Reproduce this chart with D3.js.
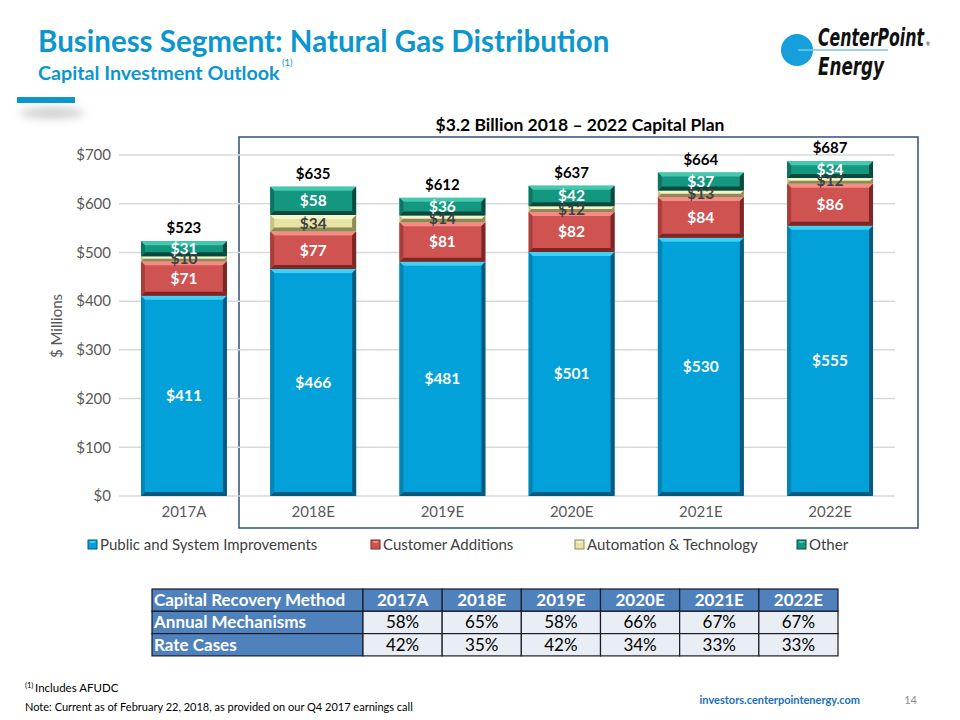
<!DOCTYPE html>
<html><head><meta charset="utf-8">
<script src="https://cdn.jsdelivr.net/npm/d3@7/dist/d3.min.js"></script>
<style>
body{margin:0;background:#fff;}
svg{display:block;font-family:Lato,"Open Sans",sans-serif;}
</style></head>
<body>
<svg id="c" width="960" height="720"></svg>
<script>
// ---- data ----
const categories = ["2017A","2018E","2019E","2020E","2021E","2022E"];
const seriesNames = ["Public and System Improvements","Customer Additions","Automation & Technology","Other"];
const publicSys = [411,466,481,501,530,555];
const customerAdd = [71,77,81,82,84,86];
const automation = [10,34,14,12,13,12];
const other = [31,58,36,42,37,34];
const totals = [523,635,612,637,664,687];
const yTicks = [0,100,200,300,400,500,600,700];
const tableHeader = ["Capital Recovery Method","2017A","2018E","2019E","2020E","2021E","2022E"];
const annualMech = ["58%","65%","58%","66%","67%","67%"];
const rateCases = ["42%","35%","42%","34%","33%","33%"];

const svg = d3.select("#c");
const blue = "#0b96d0";

// ---- header ----
svg.append("text").attr("x",38).attr("y",52).attr("font-size",29.5).attr("font-weight",700)
  .attr("fill",blue).text("Business Segment: Natural Gas Distribution");
svg.append("text").attr("x",38).attr("y",80).attr("font-size",19.7).attr("font-weight",700).attr("fill",blue)
  .text("Capital Investment Outlook");
svg.append("text").attr("x",282).attr("y",66).attr("font-size",9.5).attr("fill",blue).text("(1)");
const defs = svg.append("defs");
defs.append("filter").attr("id","blur").attr("x","-50%").attr("y","-100%").attr("width","200%").attr("height","300%")
  .append("feGaussianBlur").attr("stdDeviation",5);
svg.append("ellipse").attr("cx",52).attr("cy",113).attr("rx",32).attr("ry",5).attr("fill","#c8c8c8").attr("filter","url(#blur)");
svg.append("rect").attr("x",17).attr("y",97).attr("width",58).attr("height",6).attr("fill",blue);

// logo
svg.append("line").attr("x1",798).attr("y1",50).attr("x2",888).attr("y2",50).attr("stroke","#38a8df").attr("stroke-width",1.2);
svg.append("circle").attr("cx",797).attr("cy",50).attr("r",16).attr("fill","#169fdb");
svg.append("line").attr("x1",798).attr("y1",50).attr("x2",814).attr("y2",50).attr("stroke","#8fd3f2").attr("stroke-width",1.2);
const logoFont = '"Liberation Sans Narrow","DejaVu Sans Condensed","Liberation Sans",sans-serif';
svg.append("text").attr("x",818).attr("y",46).attr("font-family",logoFont).attr("font-size",24).attr("font-weight",700)
  .attr("font-style","italic").attr("textLength",106).attr("lengthAdjust","spacingAndGlyphs").attr("fill","#111").text("CenterPoint");
svg.append("text").attr("x",926).attr("y",46).attr("font-size",5).attr("fill","#111").text("®");
svg.append("text").attr("x",818).attr("y",75).attr("font-family",logoFont).attr("font-size",24).attr("font-weight",700)
  .attr("font-style","italic").attr("textLength",66).attr("lengthAdjust","spacingAndGlyphs").attr("fill","#111").text("Energy");

// ---- chart ----
const x = d3.scaleBand().domain(categories).range([119,895]).paddingInner(0.335).paddingOuter(0.17);
const y = d3.scaleLinear().domain([0,700]).range([496,155]);

// box
svg.append("rect").attr("x",239).attr("y",137).attr("width",679).attr("height",391)
  .attr("fill","none").attr("stroke","#3d5a85").attr("stroke-width",1.6);

svg.append("text").attr("x",580).attr("y",131).attr("text-anchor","middle").attr("font-size",17.5)
  .attr("font-weight",700).attr("fill","#000").text("$3.2 Billion 2018 \u2013 2022 Capital Plan");

// grid
svg.append("g").selectAll("line").data(yTicks).join("line")
  .attr("x1",119).attr("x2",895).attr("y1",d=>y(d)).attr("y2",d=>y(d))
  .attr("stroke","#d9d9d9").attr("stroke-width",1.5);

// y axis
const yAxis = svg.append("g").attr("transform","translate(119,0)")
  .call(d3.axisLeft(y).tickValues(yTicks).tickSize(0).tickPadding(8).tickFormat(d=>"$"+d));
yAxis.select(".domain").remove();
yAxis.selectAll("text").attr("font-size",15).attr("fill","#595959").attr("font-family","Lato,'Open Sans',sans-serif");
svg.append("text").attr("transform","translate(62,326) rotate(-90)").attr("text-anchor","middle")
  .attr("font-size",15).attr("fill","#595959").text("$ Millions");

// x axis
const xAxis = svg.append("g").attr("transform","translate(0,496)")
  .call(d3.axisBottom(x).tickSize(0).tickPadding(10));
xAxis.select(".domain").remove();
xAxis.selectAll("text").attr("font-size",15).attr("fill","#595959").attr("font-family","Lato,'Open Sans',sans-serif");

// stacked bars
const palettes = [
  {base:"#02a1d9", top:"#3fd0f5", side:"#0284b4", bot:"#035a7e", label:"#fff"},
  {base:"#cf5350", top:"#f58a86", side:"#a93f3c", bot:"#7a2725", label:"#fff"},
  {base:"#e7e3a5", top:"#f7f4cc", side:"#c6c187", bot:"#8f8a55", label:"#404040"},
  {base:"#149780", top:"#45c9ae", side:"#0d7562", bot:"#08493d", label:"#fff"}
];
const rows = categories.map((c,i)=>({cat:c, s0:publicSys[i], s1:customerAdd[i], s2:automation[i], s3:other[i]}));
const stack = d3.stack().keys(["s0","s1","s2","s3"])(rows);

const gBars = svg.append("g");
stack.forEach((layer,li)=>{
  const p = palettes[li];
  layer.forEach(d=>{
    const x0 = x(d.data.cat), w = x.bandwidth();
    const yt = y(d[1]), yb = y(d[0]), h = yb-yt;
    const b = Math.min(4, h/2);
    const g = gBars.append("g");
    g.append("rect").attr("x",x0).attr("y",yt).attr("width",w).attr("height",h).attr("fill",p.base);
    const pts = (a)=>a.map(q=>q.join(",")).join(" ");
    g.append("polygon").attr("points",pts([[x0,yt],[x0+w,yt],[x0+w-b,yt+b],[x0+b,yt+b]])).attr("fill",p.top);
    g.append("polygon").attr("points",pts([[x0,yb],[x0+w,yb],[x0+w-b,yb-b],[x0+b,yb-b]])).attr("fill",p.bot);
    g.append("polygon").attr("points",pts([[x0,yt],[x0+b,yt+b],[x0+b,yb-b],[x0,yb]])).attr("fill",p.side);
    g.append("polygon").attr("points",pts([[x0+w,yt],[x0+w-b,yt+b],[x0+w-b,yb-b],[x0+w,yb]])).attr("fill",p.bot);
  });
});
// segment labels (draw after all bars)
const gLab = svg.append("g");
stack.forEach((layer,li)=>{
  const p = palettes[li];
  layer.forEach(d=>{
    const v = d[1]-d[0];
    gLab.append("text").attr("x",x(d.data.cat)+x.bandwidth()/2).attr("y",(y(d[0])+y(d[1]))/2+5.5)
      .attr("text-anchor","middle").attr("font-size",15.5).attr("font-weight",700)
      .attr("fill",p.label).text("$"+v);
  });
});
// totals
svg.append("g").selectAll("text").data(categories).join("text")
  .attr("x",d=>x(d)+x.bandwidth()/2).attr("y",(d,i)=>y(totals[i])-8)
  .attr("text-anchor","middle").attr("font-size",15).attr("font-weight",700).attr("fill","#000")
  .text((d,i)=>"$"+totals[i]);

// legend
const legX = [88,371,575,797];
const lg = svg.append("g");
seriesNames.forEach((n,i)=>{
  const p = palettes[i];
  lg.append("rect").attr("x",legX[i]).attr("y",540).attr("width",9).attr("height",9).attr("fill",p.base).attr("stroke",p.bot).attr("stroke-width",1);
  lg.append("polygon").attr("points",`${legX[i]+1},${541} ${legX[i]+8},${541} ${legX[i]+6},${543} ${legX[i]+3},${543}`).attr("fill",p.top);
  lg.append("text").attr("x",legX[i]+12).attr("y",550).attr("font-size",15).attr("fill","#404040").text(n);
});

// ---- table ----
const tX = 152, tY = 589, rowH = 22.3, firstW = 211, colW = (838-363)/6;
const tableRows = [tableHeader, ["Annual Mechanisms", ...annualMech], ["Rate Cases", ...rateCases]];
const tg = svg.append("g");
tableRows.forEach((r,ri)=>{
  r.forEach((cell,ci)=>{
    const cx = ci===0 ? tX : tX+firstW+(ci-1)*colW;
    const cw = ci===0 ? firstW : colW;
    const cy = tY+ri*rowH;
    const isBlue = ri===0 || ci===0;
    tg.append("rect").attr("x",cx).attr("y",cy).attr("width",cw).attr("height",rowH)
      .attr("fill",isBlue?"#4f81bd":"#e9edf4").attr("stroke","#1a1a2a").attr("stroke-width",1.2);
    tg.append("text").attr("x",ci===0?cx+2:cx+cw/2).attr("y",cy+rowH/2+6)
      .attr("text-anchor",ci===0?"start":"middle").attr("font-size",17)
      .attr("font-weight",isBlue?700:400).attr("fill",isBlue?"#fff":"#000").text(cell);
  });
});

// ---- footer ----
svg.append("text").attr("x",25).attr("y",688).attr("font-size",7.5).attr("fill","#000").text("(1)");
svg.append("text").attr("x",35).attr("y",692).attr("font-size",11.5).attr("fill","#000").text("Includes AFUDC");
svg.append("text").attr("x",25).attr("y",711).attr("font-size",11).attr("fill","#000")
  .text("Note: Current as of February 22, 2018, as provided on our Q4 2017 earnings call");
svg.append("text").attr("x",860).attr("y",704).attr("text-anchor","end").attr("font-size",11).attr("font-weight",700)
  .attr("fill","#1a6fb8").text("investors.centerpointenergy.com");
svg.append("text").attr("x",917).attr("y",704).attr("text-anchor","end").attr("font-size",11).attr("fill","#8c8c8c").text("14");
</script>
</body></html>
